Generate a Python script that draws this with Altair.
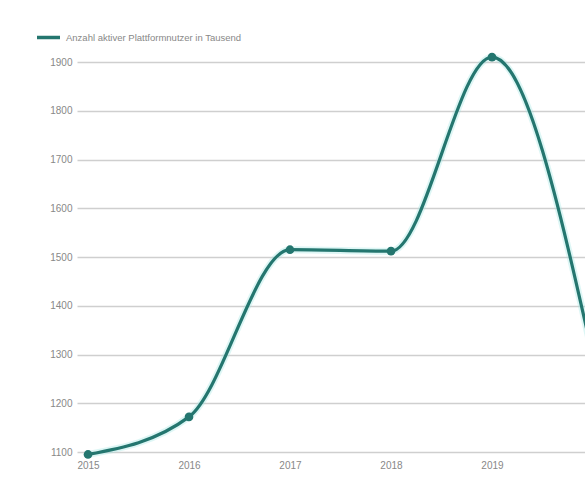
import altair as alt
import pandas as pd

years = [2015, 2016, 2017, 2018, 2019, 2020]
values = [1095, 1172, 1515, 1512, 1910, 1295]
series_name = "Anzahl aktiver Plattformnutzer in Tausend"
y_ticks = [1100, 1200, 1300, 1400, 1500, 1600, 1700, 1800, 1900]

df = pd.DataFrame({"Jahr": years, "Wert": values, "Serie": [series_name] * len(years)})

teal = "#24766f"

x = alt.X("Jahr:Q", scale=alt.Scale(domain=[2014.891, 2019.921], nice=False, zero=False),
          axis=alt.Axis(values=years, format="d", title=None, grid=False, domain=False,
                        ticks=False, labelColor="#888888", labelFontSize=10, labelPadding=8,
                        labelFont="Liberation Sans"))
y = alt.Y("Wert:Q", scale=alt.Scale(domain=[1100, 1900], nice=False, zero=False),
          axis=alt.Axis(values=y_ticks, format="d", title=None, grid=True, gridColor="#cfcfcf",
                        gridWidth=1.5, domain=False, ticks=False, labelColor="#888888",
                        labelFontSize=10, labelPadding=5, labelFont="Liberation Sans"))
color = alt.Color("Serie:N", scale=alt.Scale(domain=[series_name], range=[teal]),
                  legend=alt.Legend(title=None, orient="none", legendX=-42, legendY=-38,
                                    symbolType="stroke", symbolStrokeWidth=3.5, symbolSize=530,
                                    labelFontSize=9.5, labelColor="#888888", labelLimit=400,
                                    labelFont="Liberation Sans"))

glow = alt.Chart(df).mark_line(interpolate="monotone", strokeWidth=7, color="#9fe6e2",
                               opacity=0.35, clip=False).encode(x=x, y=y)
line = alt.Chart(df).mark_line(interpolate="monotone", strokeWidth=3.2, clip=False).encode(
    x=x, y=y, color=color)
pts = alt.Chart(df).mark_circle(size=75, opacity=1, clip=False).encode(
    x=x, y=y, color=alt.Color("Serie:N", scale=alt.Scale(domain=[series_name], range=[teal]),
                              legend=None))

chart = (glow + line + pts).properties(
    width=508, height=390,
    autosize=alt.AutoSizeParams(type="none"),
    padding={"left": 77, "top": 62, "right": 0, "bottom": 50},
    background="white",
).configure_view(strokeWidth=0)

chart.save("out.html", embed_options={"renderer": "svg", "actions": False})
